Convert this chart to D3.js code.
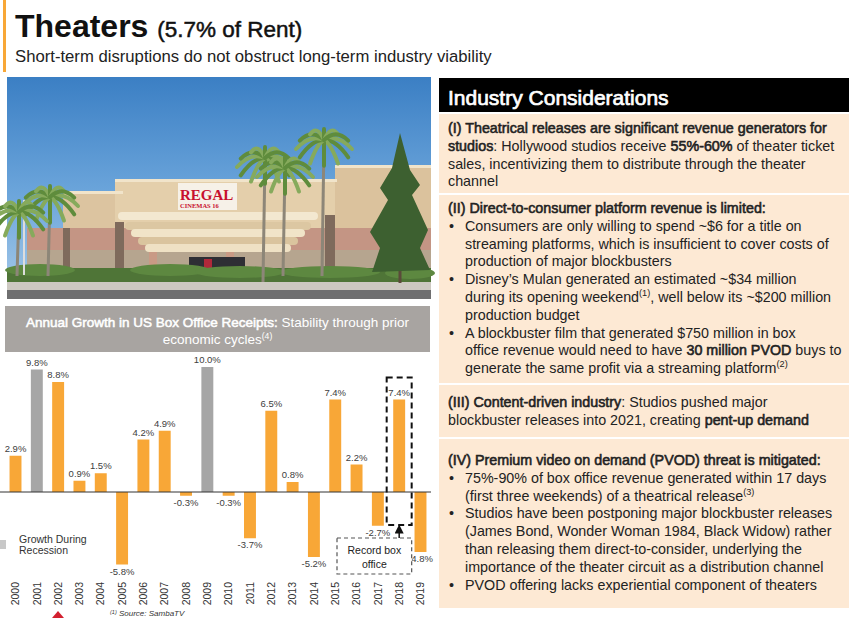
<!DOCTYPE html>
<html>
<head>
<meta charset="utf-8">
<script src="https://cdn.jsdelivr.net/npm/d3@7"></script>
<style>
  body { margin: 0; background: #fff; }
  svg { display: block; }
  text { white-space: pre; }
</style>
</head>
<body>
<div id="chart"></div>
<script>
// ---- data ----
const years = ['2000', '2001', '2002', '2003', '2004', '2005', '2006', '2007', '2008', '2009',
  '2010', '2011', '2012', '2013', '2014', '2015', '2016', '2017', '2018', '2019'];
const growth = [2.9, 9.8, 8.8, 0.9, 1.5, -5.8, 4.2, 4.9, -0.3, 10.0,
  -0.3, -3.7, 6.5, 0.8, -5.2, 7.4, 2.2, -2.7, 7.4, -4.8];
const recessionYears = ['2001', '2009'];
const recordYear = '2018';
const legendLines = ['Growth During', 'Recession'];
const recordLines = ['Record box', 'office'];

// right panel text, [style, text]: n normal, b bold, s superscript
const sectionOne = [
  ['', ['b', '(I) Theatrical releases are significant revenue generators for']],
  ['', ['b', 'studios'], ['n', ': Hollywood studios receive '], ['b', '55%-60%'], ['n', ' of theater ticket']],
  ['', ['n', 'sales, incentivizing them to distribute through the theater']],
  ['', ['n', 'channel']]
];
const sectionTwo = [
  ['', ['b', '(II) Direct-to-consumer platform revenue is limited:']],
  ['•', ['n', 'Consumers are only willing to spend ~$6 for a title on']],
  ['>', ['n', 'streaming platforms, which is insufficient to cover costs of']],
  ['>', ['n', 'production of major blockbusters']],
  ['•', ['n', 'Disney’s Mulan generated an estimated ~$34 million']],
  ['>', ['n', 'during its opening weekend'], ['s', '(1)'], ['n', ', well below its ~$200 million']],
  ['>', ['n', 'production budget']],
  ['•', ['n', 'A blockbuster film that generated $750 million in box']],
  ['>', ['n', 'office revenue would need to have '], ['b', '30 million PVOD'], ['n', ' buys to']],
  ['>', ['n', 'generate the same profit via a streaming platform'], ['s', '(2)']]
];
const sectionThree = [
  ['', ['b', '(III) Content-driven industry'], ['n', ': Studios pushed major']],
  ['', ['n', 'blockbuster releases into 2021, creating '], ['b', 'pent-up demand']]
];
const sectionFour = [
  ['', ['b', '(IV) Premium video on demand (PVOD) threat is mitigated:']],
  ['•', ['n', '75%-90% of box office revenue generated within 17 days']],
  ['>', ['n', '(first three weekends) of a theatrical release'], ['s', '(3)']],
  ['•', ['n', 'Studios have been postponing major blockbuster releases']],
  ['>', ['n', '(James Bond, Wonder Woman 1984, Black Widow) rather']],
  ['>', ['n', 'than releasing them direct-to-consider, underlying the']],
  ['>', ['n', 'importance of the theater circuit as a distribution channel']],
  ['•', ['n', 'PVOD offering lacks experiential component of theaters']]
];
const sections = [sectionOne, sectionTwo, sectionThree, sectionFour];

// ---- layout ----
const W = 850, H = 618;
const FONT = "'Liberation Sans', Arial, sans-serif";
const orange = '#f8a737';
const barGrey = '#a6a6a6';
const ink = '#222';

const svg = d3.select('#chart').append('svg')
  .attr('width', W).attr('height', H)
  .style('font-family', FONT);

function richText(parent, x, y, segs, size, color, anchor) {
  const t = parent.append('text')
    .attr('x', x).attr('y', y)
    .attr('font-size', size)
    .attr('fill', color)
    .attr('text-anchor', anchor || 'start');
  let shifted = false;
  segs.forEach(([style, str]) => {
    const sp = t.append('tspan').text(str);
    if (style === 's') {
      sp.attr('dy', -size * 0.4).attr('font-size', size * 0.64);
      shifted = true;
    } else if (shifted) {
      sp.attr('dy', size * 0.4);
      shifted = false;
    }
    if (style === 'b') sp.attr('stroke', color).attr('stroke-width', size * 0.04);
  });
  return t;
}

// ---- title ----
svg.append('rect').attr('x', 3).attr('y', 0).attr('width', 3).attr('height', 72).attr('fill', orange);
const title = svg.append('text').attr('x', 15).attr('y', 37).attr('fill', '#111');
title.append('tspan').attr('font-size', 32).attr('font-weight', 'bold').text('Theaters ');
title.append('tspan').attr('font-size', 22.5).attr('stroke', '#111').attr('stroke-width', 0.5).text('(5.7% of Rent)');
svg.append('text').attr('x', 15).attr('y', 62).attr('font-size', 16.7).attr('fill', '#222')
  .text('Short-term disruptions do not obstruct long-term industry viability');

// ---- photo (stylised) ----
const photo = svg.append('g');
const defs = svg.append('defs');
const sky = defs.append('linearGradient').attr('id', 'sky').attr('x1', 0).attr('y1', 0).attr('x2', 0).attr('y2', 1);
sky.append('stop').attr('offset', '0%').attr('stop-color', '#3b7fc4');
sky.append('stop').attr('offset', '55%').attr('stop-color', '#6ea7dc');
sky.append('stop').attr('offset', '100%').attr('stop-color', '#a9cbea');
photo.append('rect').attr('x', 7).attr('y', 77).attr('width', 424).attr('height', 222).attr('fill', 'url(#sky)');

const blocks = [
  [63, 193, 60, 36, '#dcc4a0'], [115, 181, 222, 48, '#e4cfab'], [335, 167, 96, 62, '#dbc29d'],
  [27, 228, 404, 22, '#c49584'], [27, 250, 404, 22, '#b6a58f'],
  [63, 228, 7, 44, '#7f6a5c'], [115, 222, 9, 50, '#7f6a5c'], [325, 215, 10, 57, '#7f6a5c']
];
photo.selectAll('.blk').data(blocks).join('rect').attr('class', 'blk')
  .attr('x', d => d[0]).attr('y', d => d[1]).attr('width', d => d[2]).attr('height', d => d[3]).attr('fill', d => d[4]);
photo.selectAll('.trim').data([[63, 191, 60], [115, 179, 222], [335, 165, 96]]).join('rect').attr('class', 'trim')
  .attr('x', d => d[0]).attr('y', d => d[1]).attr('width', d => d[2]).attr('height', 3).attr('fill', '#f1e4ca');
const canopy = [[118, 212, 200, '#f3e8d0'], [125, 222, 186, '#dcc7a2'], [131, 229, 174, '#f1e4c8'],
  [138, 237, 160, '#dac49e'], [145, 244, 146, '#efe1c4']];
photo.selectAll('.can').data(canopy).join('rect').attr('class', 'can')
  .attr('x', d => d[0]).attr('y', d => d[1]).attr('width', d => d[2]).attr('height', 8).attr('rx', 4).attr('fill', d => d[3]);
photo.selectAll('.col').data([149, 226]).join('rect').attr('class', 'col')
  .attr('x', d => d).attr('y', 252).attr('width', 8).attr('height', 20).attr('fill', '#c99a85');
photo.append('rect').attr('x', 189).attr('y', 257).attr('width', 56).attr('height', 15).attr('fill', '#2e2e34');
photo.append('rect').attr('x', 204).attr('y', 259).attr('width', 8).attr('height', 12).attr('fill', '#b0283a');
photo.append('rect').attr('x', 178).attr('y', 183).attr('width', 59).attr('height', 27).attr('fill', '#f6f1e8');
photo.append('text').attr('x', 180).attr('y', 200).attr('font-family', "'Liberation Serif', serif")
  .attr('font-weight', 'bold').attr('font-size', 15).attr('fill', '#c8102e').text('REGAL');
photo.append('text').attr('x', 180).attr('y', 208).attr('font-family', "'Liberation Serif', serif")
  .attr('font-weight', 'bold').attr('font-size', 6.5).attr('fill', '#c8102e').text('CINEMAS 16');
// ground
photo.append('rect').attr('x', 7).attr('y', 268).attr('width', 424).attr('height', 14).attr('fill', '#4f7537');
photo.selectAll('.hedge').data([[40, 270, 35], [170, 270, 40], [240, 272, 45], [330, 272, 50], [410, 273, 25]])
  .join('ellipse').attr('class', 'hedge').attr('cx', d => d[0]).attr('cy', d => d[1]).attr('rx', d => d[2]).attr('ry', 6)
  .attr('fill', '#5d8840');
photo.append('rect').attr('x', 7).attr('y', 282).attr('width', 424).attr('height', 8).attr('fill', '#cdc9c1');
photo.append('rect').attr('x', 7).attr('y', 290).attr('width', 424).attr('height', 9).attr('fill', '#6f6f70');
// lamp
photo.append('line').attr('x1', 24).attr('x2', 24).attr('y1', 200).attr('y2', 275).attr('stroke', '#ddd').attr('stroke-width', 2);
// pine
photo.append('line').attr('x1', 400).attr('x2', 400).attr('y1', 150).attr('y2', 283).attr('stroke', '#5b4a3a').attr('stroke-width', 3);
photo.append('path').attr('d', 'M400,133 L410,170 L420,185 L412,195 L428,230 L420,248 L430,270 L372,272 L380,248 L370,232 L388,200 L380,188 L392,168 Z')
  .attr('fill', '#3d6030');
// palms
const palms = [[48, 276, 197], [17, 276, 212], [263, 282, 158], [283, 276, 168], [322, 276, 140]];
palms.forEach(([px, base, top]) => {
  photo.append('line').attr('x1', px).attr('x2', px + 2).attr('y1', base).attr('y2', top)
    .attr('stroke', '#8d8678').attr('stroke-width', 3);
  d3.range(0, 360, 30).forEach((a, i) => {
    const r = (a * Math.PI) / 180;
    const len = 28;
    const ex = px + 2 + Math.cos(r) * len;
    const ey = top + Math.sin(r) * len * 0.6 + 9;
    const cx = px + 2 + Math.cos(r) * len * 0.5;
    const cy = top + Math.sin(r) * len * 0.4 - 6;
    photo.append('path').attr('d', `M${px + 2},${top} Q${cx},${cy} ${ex},${ey}`)
      .attr('fill', 'none').attr('stroke', i % 2 ? '#5f8c3c' : '#86aa5c').attr('stroke-width', 4).attr('stroke-linecap', 'round');
  });
});

// ---- chart header ----
svg.append('rect').attr('x', 5).attr('y', 306).attr('width', 425).attr('height', 46).attr('fill', '#a8a4a1');
richText(svg, 217.5, 327, [['b', 'Annual Growth in US Box Office Receipts:'], ['n', ' Stability through prior']], 13.5, '#fff', 'middle');
richText(svg, 217.5, 344, [['n', 'economic cycles'], ['s', '(4)']], 13.5, '#fff', 'middle');

// ---- bar chart ----
const x = d3.scaleBand().domain(years).range([4.85, 431.15]).paddingInner(0.44).paddingOuter(0.22);
const y = d3.scaleLinear().domain([-6, 10]).range([567, 367]);
const bars = years.map((yr, i) => ({ yr, v: growth[i] }));
const chart = svg.append('g');

chart.selectAll('.bar').data(bars).join('rect').attr('class', 'bar')
  .attr('x', d => x(d.yr))
  .attr('width', x.bandwidth())
  .attr('y', d => y(Math.max(0, d.v)))
  .attr('height', d => Math.abs(y(d.v) - y(0)))
  .attr('fill', d => recessionYears.includes(d.yr) ? barGrey : orange);

chart.append('line').attr('x1', 0).attr('x2', 431).attr('y1', y(0)).attr('y2', y(0))
  .attr('stroke', '#333').attr('stroke-width', 1);

chart.selectAll('.val').data(bars).join('text').attr('class', 'val')
  .attr('x', d => x(d.yr) + x.bandwidth() / 2)
  .attr('y', d => d.v >= 0 ? y(d.v) - 4 : y(d.v) + 10)
  .attr('text-anchor', 'middle').attr('font-size', 9.5).attr('fill', '#404040')
  .text(d => `${d.v.toFixed(1)}%`);

const xAxis = chart.append('g').attr('transform', 'translate(0,582)')
  .call(d3.axisBottom(x).tickSize(0).tickPadding(0));
xAxis.select('.domain').remove();
xAxis.selectAll('text')
  .attr('transform', 'rotate(-90)')
  .attr('x', 0).attr('y', 0).attr('dy', '0.35em')
  .attr('text-anchor', 'end')
  .attr('font-family', FONT).attr('font-size', 10.5).attr('fill', '#333');

// legend
chart.append('rect').attr('x', -4).attr('y', 540).attr('width', 10).attr('height', 9).attr('fill', '#c8c8c8');
chart.selectAll('.leg').data(legendLines).join('text').attr('class', 'leg')
  .attr('x', 19).attr('y', (d, i) => 543 + i * 11)
  .attr('font-size', 10.5).attr('fill', '#333').text(d => d);

// record box annotation
const rx = x(recordYear), rc = rx + x.bandwidth() / 2;
const rv = growth[years.indexOf(recordYear)];
const boxTop = y(rv) - 22, boxBot = y(0) + 33;
chart.append('rect').attr('x', rc - 12.5).attr('y', boxTop).attr('width', 25).attr('height', boxBot - boxTop)
  .attr('fill', 'none').attr('stroke', '#111').attr('stroke-width', 2).attr('stroke-dasharray', '6,4');
defs.append('marker').attr('id', 'arr').attr('viewBox', '0 0 10 10').attr('refX', 5).attr('refY', 5)
  .attr('markerWidth', 6).attr('markerHeight', 6).attr('orient', 'auto')
  .append('path').attr('d', 'M0,0 L10,5 L0,10 Z').attr('fill', '#111');
chart.append('line').attr('x1', rc).attr('x2', rc).attr('y1', boxBot + 13).attr('y2', boxBot + 4)
  .attr('stroke', '#111').attr('stroke-width', 1.5).attr('marker-end', 'url(#arr)');
const labelLeft = 337, labelRight = rc + 12.5;
chart.append('rect').attr('x', labelLeft).attr('y', boxBot + 13).attr('width', labelRight - labelLeft).attr('height', 36)
  .attr('fill', '#fff').attr('stroke', '#555').attr('stroke-width', 1.2).attr('stroke-dasharray', '4,3');
chart.selectAll('.rec').data(recordLines).join('text').attr('class', 'rec')
  .attr('x', (labelLeft + labelRight) / 2).attr('y', (d, i) => boxBot + 29 + i * 14)
  .attr('text-anchor', 'middle').attr('font-size', 10.5).attr('fill', '#222').text(d => d);

// footnote + logo hint
svg.append('path').attr('d', 'M52,618 L58,611 L64,618 Z').attr('fill', '#d3202f');
const foot = svg.append('text').attr('x', 110).attr('y', 616).attr('font-size', 8).attr('font-style', 'italic').attr('fill', '#333');
foot.append('tspan').attr('font-size', 5.5).attr('dy', -2.5).text('(1)');
foot.append('tspan').attr('dy', 2.5).text(' Source: SambaTV');

// ---- industry considerations panel ----
const panel = svg.append('g');
panel.append('rect').attr('x', 439).attr('y', 78).attr('width', 410).attr('height', 34).attr('fill', '#000');
panel.append('text').attr('x', 448).attr('y', 105).attr('font-size', 21).attr('fill', '#fff')
  .attr('stroke', '#fff').attr('stroke-width', 0.7).text('Industry Considerations');
panel.append('rect').attr('x', 439).attr('y', 114).attr('width', 410).attr('height', 494).attr('fill', '#fde9d4');
panel.selectAll('.sep').data([193, 383, 437]).join('rect').attr('class', 'sep')
  .attr('x', 439).attr('y', d => d).attr('width', 410).attr('height', 2).attr('fill', '#fff');

const sectionStarts = [133, 213, 407, 465];
const lineH = 17.8;
const fs = 14.3;
sections.forEach((lines, si) => {
  lines.forEach(([kind, ...segs], li) => {
    const ly = sectionStarts[si] + li * lineH;
    if (kind === '•') {
      panel.append('text').attr('x', 449).attr('y', ly).attr('font-size', fs).attr('fill', ink).text('•');
    }
    richText(panel, kind === '' ? 448 : 465, ly, segs, fs, ink);
  });
});
</script>
</body>
</html>
